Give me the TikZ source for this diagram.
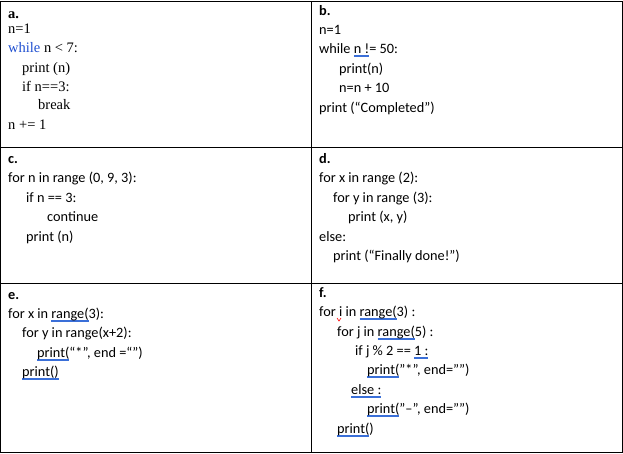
\documentclass[tikz,border=0pt]{standalone}
\usepackage{fontspec}
\setmainfont{Carlito}
\newfontfamily\tnr{Liberation Serif}
\definecolor{wavy}{HTML}{3A6FD8}
\definecolor{kw}{HTML}{1F4FD0}
\newcommand\wu[1]{\setbox0\hbox{#1}\rlap{\color{wavy}\rule[-2.2pt]{\wd0}{0.5pt}\kern-\wd0\relax\rule[-3.6pt]{\wd0}{0.5pt}}\box0\relax}
\begin{document}
\begin{tikzpicture}[x=1pt,y=-1pt,
  ln/.style={anchor=base west,inner sep=0,font=\fontsize{14.3}{16}\selectfont},
  tl/.style={anchor=base west,inner sep=0,font=\tnr\fontsize{14.5}{16}\selectfont},
  grid/.style={line width=1pt}]
\useasboundingbox (0,0) rectangle (623,453);
\draw[grid] (0.5,1) rectangle (622,452);
\draw[grid] (311,1) -- (311,452);
\draw[grid] (0.5,147) -- (622,147);
\draw[grid] (0.5,283) -- (622,283);
% a
\node[tl] (a0) at (8,18) {\bfseries a.};
\node[tl] (a1) at (8,33) {n=1};
\node[tl] (a2) at (8,52) {\textcolor{kw}{while} n < 7:};
\node[tl] (a3) at (22,72) {print (n)};
\node[tl] (a4) at (22,91) {if n==3:};
\node[tl] (a5) at (38,109) {break};
\node[tl] (a6) at (8,129) {n += 1};
% b
\node[ln] (b0) at (319,15) {\bfseries b.};
\node[ln] (b1) at (319,34) {n=1};
\node[ln] (b2) at (319,53) {while \wu{n !}= 50:};
\node[ln] (b3) at (339,73) {print(n)};
\node[ln] (b4) at (339,92) {n=n + 10};
\node[ln] (b5) at (319,112) {print (“Completed”)};
% c
\node[ln] (c0) at (8,163) {\bfseries c.};
\node[ln] (c1) at (8,182) {for n in range (0, 9, 3):};
\node[ln] (c2) at (26,202) {if n == 3:};
\node[ln] (c3) at (47,221) {continue};
\node[ln] (c4) at (26,241) {print (n)};
% d
\node[ln] (d0) at (319,163) {\bfseries d.};
\node[ln] (d1) at (319,182) {for x in range (2):};
\node[ln] (d2) at (333,202) {for y in range (3):};
\node[ln] (d3) at (348,221) {print (x, y)};
\node[ln] (d4) at (319,241) {else:};
\node[ln] (d5) at (333,260) {print (“Finally done!”)};
% e
\node[ln] (e0) at (8,299) {\bfseries e.};
\node[ln] (e1) at (8,318) {for x in \wu{range(}3):};
\node[ln] (e2) at (22,337) {for y in range(x+2):};
\node[ln] (e3) at (37,357) {\wu{print(}“*”, end =“”)};
\node[ln] (e4) at (22,376) {\wu{print()}};
% f
\node[ln] (f0) at (319,297) {\bfseries f.};
\node[ln] (f1) at (319,316) {for i in \wu{range(}3) :};
\node[ln] (f2) at (337,336) {for j in \wu{range(}5) :};
\node[ln] (f3) at (355,355) {if j \% 2 == \wu{1 :}};
\node[ln] (f4) at (367,374) {\wu{print(}"*", end="")};
\node[ln] (f5) at (351,394) {\wu{else :}};
\node[ln] (f6) at (367,413) {\wu{print(}"\textendash", end="")};
\node[ln] (f7) at (337,433) {\wu{print(}) };
\draw[red,line width=0.6pt] (337,318) -- (339,321) -- (341,318);
\end{tikzpicture}
\end{document}
